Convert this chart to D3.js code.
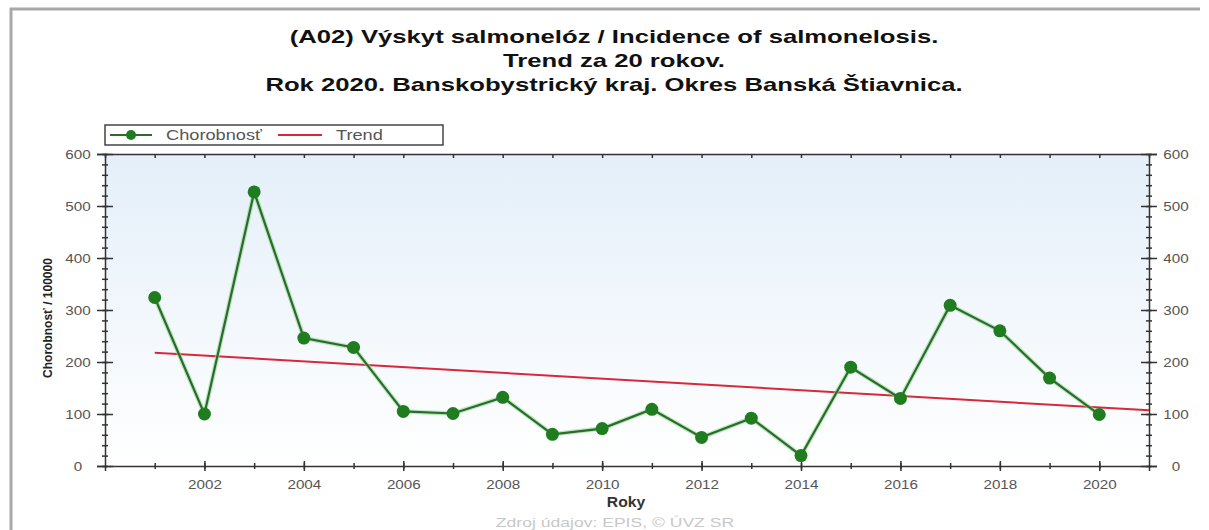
<!DOCTYPE html>
<html><head><meta charset="utf-8">
<script src="https://cdn.jsdelivr.net/npm/d3@7"></script>
<style>body{margin:0;background:#fff}svg{display:block}</style>
</head><body><svg id="c" width="1209" height="530"></svg>
<script>
const titleLines = ["(A02) Výskyt salmonelóz / Incidence of salmonelosis.", "Trend za 20 rokov.", "Rok 2020. Banskobystrický kraj. Okres Banská Štiavnica."];
const years = [2001,2002,2003,2004,2005,2006,2007,2008,2009,2010,2011,2012,2013,2014,2015,2016,2017,2018,2019,2020];
const incidence = [324,100,527,246,228,105,101,132,61,72,109,55,92,20,190,130,309,260,169,99];
const trendYears = [2001, 2021];
const trendValues = [218, 107];
const yTicks = [0,100,200,300,400,500,600];
const xTickLabels = [2002,2004,2006,2008,2010,2012,2014,2016,2018,2020];
const seriesNames = ["Chorobnosť", "Trend"];
const yLabel = "Chorobnosť / 100000";
const xLabel = "Roky";
const source = "Zdroj údajov: EPIS, © ÚVZ SR";

const svg = d3.select("#c");
const L = 105, R = 1149, T = 154, B = 466;
const x = d3.scaleLinear().domain([2000, 2021]).range([L, R]);
const y = d3.scaleLinear().domain([0, 600]).range([B, T]);
const font = "'Liberation Sans', Arial, sans-serif";

// horizontally widen text to mimic the reference rendering
function stretch(sel, f) {
  sel.each(function() {
    const w = this.getComputedTextLength();
    if (w > 0) d3.select(this).attr("textLength", w * f).attr("lengthAdjust", "spacingAndGlyphs");
  });
}

// frame
svg.append("path").attr("d","M11,530 V9 H1200").attr("fill","none").attr("stroke","#a8a8a8").attr("stroke-width",3);

// title
svg.selectAll("text.title").data(titleLines).join("text").attr("class","title")
  .attr("x", 614).attr("y", (d,i)=>43+i*24)
  .attr("text-anchor","middle").attr("font-family",font).attr("font-weight","bold")
  .attr("font-size",19).attr("fill","#111").text(d=>d)
  .call(stretch, 1.35);

// background gradient
const defs = svg.append("defs");
const g = defs.append("linearGradient").attr("id","bg").attr("x1",0).attr("y1",0).attr("x2",0).attr("y2",1);
g.append("stop").attr("offset","0%").attr("stop-color","#e4eff9");
g.append("stop").attr("offset","100%").attr("stop-color","#ffffff");
svg.append("rect").attr("x",L).attr("y",T).attr("width",R-L).attr("height",B-T).attr("fill","url(#bg)");

// axes
const axStyle = sel => {
  sel.select(".domain").attr("stroke","#333").attr("stroke-width",1.5);
  sel.selectAll(".tick line").attr("stroke","#333").attr("stroke-width",1.5);
  sel.selectAll("text").attr("font-family",font).attr("font-size",13).attr("fill","#555").call(stretch, 1.17);
};
const minorY = d3.range(0, 601, 20);
const allYears = d3.range(2001, 2021);
// left axis major
svg.append("g").attr("transform",`translate(${L},0)`)
  .call(d3.axisLeft(y).tickValues(yTicks).tickSize(8).tickPadding(6).tickFormat(d3.format("d")))
  .call(s=>s.selectAll("text").attr("text-anchor","middle").attr("x",-27))
  .call(axStyle)
  .call(s=>s.selectAll(".tick line").attr("x1",-8).attr("x2",8));
svg.append("g").attr("transform",`translate(${L},0)`)
  .call(d3.axisLeft(y).tickValues(minorY).tickSize(3).tickFormat(""))
  .call(axStyle).call(s=>{s.select(".domain").remove(); s.selectAll(".tick line").attr("x1",-3).attr("x2",3);});
// right axis
svg.append("g").attr("transform",`translate(${R},0)`)
  .call(d3.axisRight(y).tickValues(yTicks).tickSize(8).tickPadding(8).tickFormat(d3.format("d")))
  .call(s=>s.selectAll("text").attr("text-anchor","middle").attr("x",27))
  .call(axStyle)
  .call(s=>s.selectAll(".tick line").attr("x1",-8).attr("x2",8));
svg.append("g").attr("transform",`translate(${R},0)`)
  .call(d3.axisRight(y).tickValues(minorY).tickSize(3).tickFormat(""))
  .call(axStyle).call(s=>{s.select(".domain").remove(); s.selectAll(".tick line").attr("x1",-3).attr("x2",3);});
// bottom axis
svg.append("g").attr("transform",`translate(0,${B})`)
  .call(d3.axisBottom(x).tickValues(xTickLabels).tickSize(5).tickPadding(9).tickFormat(d3.format("d")))
  .call(axStyle)
  .call(s=>s.selectAll(".tick line").attr("y1",-5).attr("y2",5));
svg.append("g").attr("transform",`translate(0,${B})`)
  .call(d3.axisBottom(x).tickValues(allYears).tickSize(3).tickFormat(""))
  .call(axStyle).call(s=>{s.select(".domain").remove(); s.selectAll(".tick line").attr("y1",-3).attr("y2",3);});
// top axis
svg.append("g").attr("transform",`translate(0,${T})`)
  .call(d3.axisBottom(x).tickValues(allYears).tickSize(4).tickFormat(""))
  .call(axStyle).call(s=>s.selectAll(".tick line").attr("y1",0).attr("y2",4));

// trend
const line = d3.line().x(d=>x(d[0])).y(d=>y(d[1]));
svg.append("path").datum(d3.zip(trendYears, trendValues)).attr("d", line)
  .attr("fill","none").attr("stroke","#d8283a").attr("stroke-width",2);

// incidence
const pts = d3.zip(years, incidence);
svg.append("path").datum(pts).attr("d", line)
  .attr("fill","none").attr("stroke","#8fdc8f").attr("stroke-width",4.5).attr("opacity",0.6);
svg.append("path").datum(pts).attr("d", line)
  .attr("fill","none").attr("stroke","#2e6a2e").attr("stroke-width",2.2);
svg.selectAll("circle.pt").data(pts).join("circle")
  .attr("cx",d=>x(d[0])).attr("cy",d=>y(d[1])).attr("r",6.5).attr("fill","#1f7d1f");

// legend
const lg = svg.append("g");
lg.append("rect").attr("x",105).attr("y",125).attr("width",338).attr("height",20)
  .attr("fill","#fff").attr("stroke","#444").attr("stroke-width",1.5);
lg.append("line").attr("x1",110).attr("x2",152).attr("y1",135).attr("y2",135).attr("stroke","#2e6a2e").attr("stroke-width",2.2);
lg.append("circle").attr("cx",131).attr("cy",135).attr("r",5).attr("fill","#1f7d1f");
lg.append("text").attr("x",166).attr("y",140).attr("font-family",font).attr("font-size",14).attr("fill","#555").text(seriesNames[0]).call(stretch, 1.3);
lg.append("line").attr("x1",278).attr("x2",322).attr("y1",135).attr("y2",135).attr("stroke","#d8283a").attr("stroke-width",2);
lg.append("text").attr("x",336).attr("y",140).attr("font-family",font).attr("font-size",14).attr("fill","#555").text(seriesNames[1]).call(stretch, 1.3);

// axis titles
svg.append("text").attr("transform","translate(52,318) rotate(-90)").attr("text-anchor","middle")
  .attr("font-family",font).attr("font-weight","bold").attr("font-size",12).attr("fill","#222").text(yLabel);
svg.append("text").attr("x",626).attr("y",507).attr("text-anchor","middle")
  .attr("font-family",font).attr("font-weight","bold").attr("font-size",14).attr("fill","#333").text(xLabel).call(stretch, 1.12);
svg.append("text").attr("x",615).attr("y",527).attr("text-anchor","middle")
  .attr("font-family",font).attr("font-size",13).attr("fill","#c8c8c8").text(source).call(stretch, 1.35);
</script></body></html>
